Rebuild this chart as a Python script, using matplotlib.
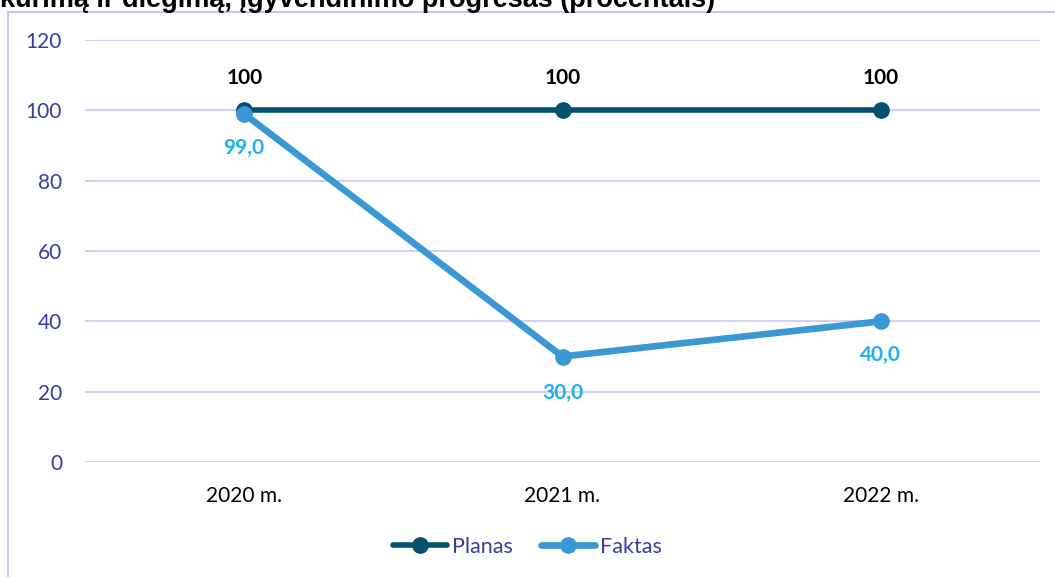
import matplotlib
matplotlib.use("Agg")
import matplotlib.pyplot as plt
from matplotlib.patches import Rectangle

categories = ["2020 m.", "2021 m.", "2022 m."]
planas = [100, 100, 100]
faktas = [99.0, 30.0, 40.0]
planas_labels = ["100", "100", "100"]
faktas_labels = ["99,0", "30,0", "40,0"]
yticks = [0, 20, 40, 60, 80, 100, 120]
title = "kūrimą ir diegimą, įgyvendinimo progresas (procentais)"

W, H = 1055, 577
fig = plt.figure(figsize=(W / 100, H / 100), dpi=100)
fig.patch.set_facecolor("white")

# outer chart border (extends beyond the canvas)
fig.patches.append(Rectangle((8 / W, -0.1), 1.2, 1 - 12 / H + 0.1, transform=fig.transFigure,
                             fill=False, edgecolor="#C9C6F0", linewidth=1.5))

ax = fig.add_axes([85 / W, 1 - 462 / H, (1040 - 85) / W, (462 - 40) / H])
x = list(range(len(categories)))
ax.set_xlim(-0.5, len(categories) - 0.5)
ax.set_ylim(0, 120)
ax.set_yticks(yticks)
ax.set_xticks(x)
ax.set_xticklabels(categories)
for s in ax.spines.values():
    s.set_visible(False)
ax.grid(axis="y", color="#D3D0F2", linewidth=1.5)
ax.set_axisbelow(True)
ax.tick_params(axis="both", length=0)
ax.tick_params(axis="y", pad=16.5, labelsize=15, labelcolor="#3B3BA0")
ax.tick_params(axis="x", pad=17, labelsize=15, labelcolor="black")
for lab in ax.get_yticklabels() + ax.get_xticklabels():
    lab.set_family("Lato")

ax.plot(x, planas, color="#03506F", linewidth=4, marker="o", markersize=11,
        solid_capstyle="round", label="Planas", zorder=3)
ax.plot(x, faktas, color="#3A98D4", linewidth=4.8, marker="o", markersize=11,
        solid_capstyle="round", label="Faktas", zorder=4)

for xi, v, t in zip(x, planas, planas_labels):
    ax.annotate(t, (xi, v), xytext=(0, 23), textcoords="offset points", ha="center", va="center",
                fontsize=15, fontweight="bold", color="black", family="Lato")
faktas_offsets = [(0, -24.5), (0, -26), (0, -24.5)]
for xi, v, t, off in zip(x, faktas, faktas_labels, faktas_offsets):
    ax.annotate(t, (xi, v), xytext=off, textcoords="offset points",
                ha="center", va="center", fontsize=15, fontweight="bold", color="#1FB1EF", family="Lato")

leg = fig.legend(loc="center", bbox_to_anchor=(0.5, 1 - 547 / H), ncol=2, frameon=False,
                 handlelength=2.5, columnspacing=1.3, handletextpad=0.25,
                 prop={"family": "Lato", "size": 15.5})
for t in leg.get_texts():
    t.set_color("#3B3BA0")

fig.text(0.0, 1 - 7 / H, title, ha="left", va="baseline", fontsize=19.5, fontweight="bold",
         family="Liberation Sans", color="black")

fig.savefig("out.png", dpi=100)
